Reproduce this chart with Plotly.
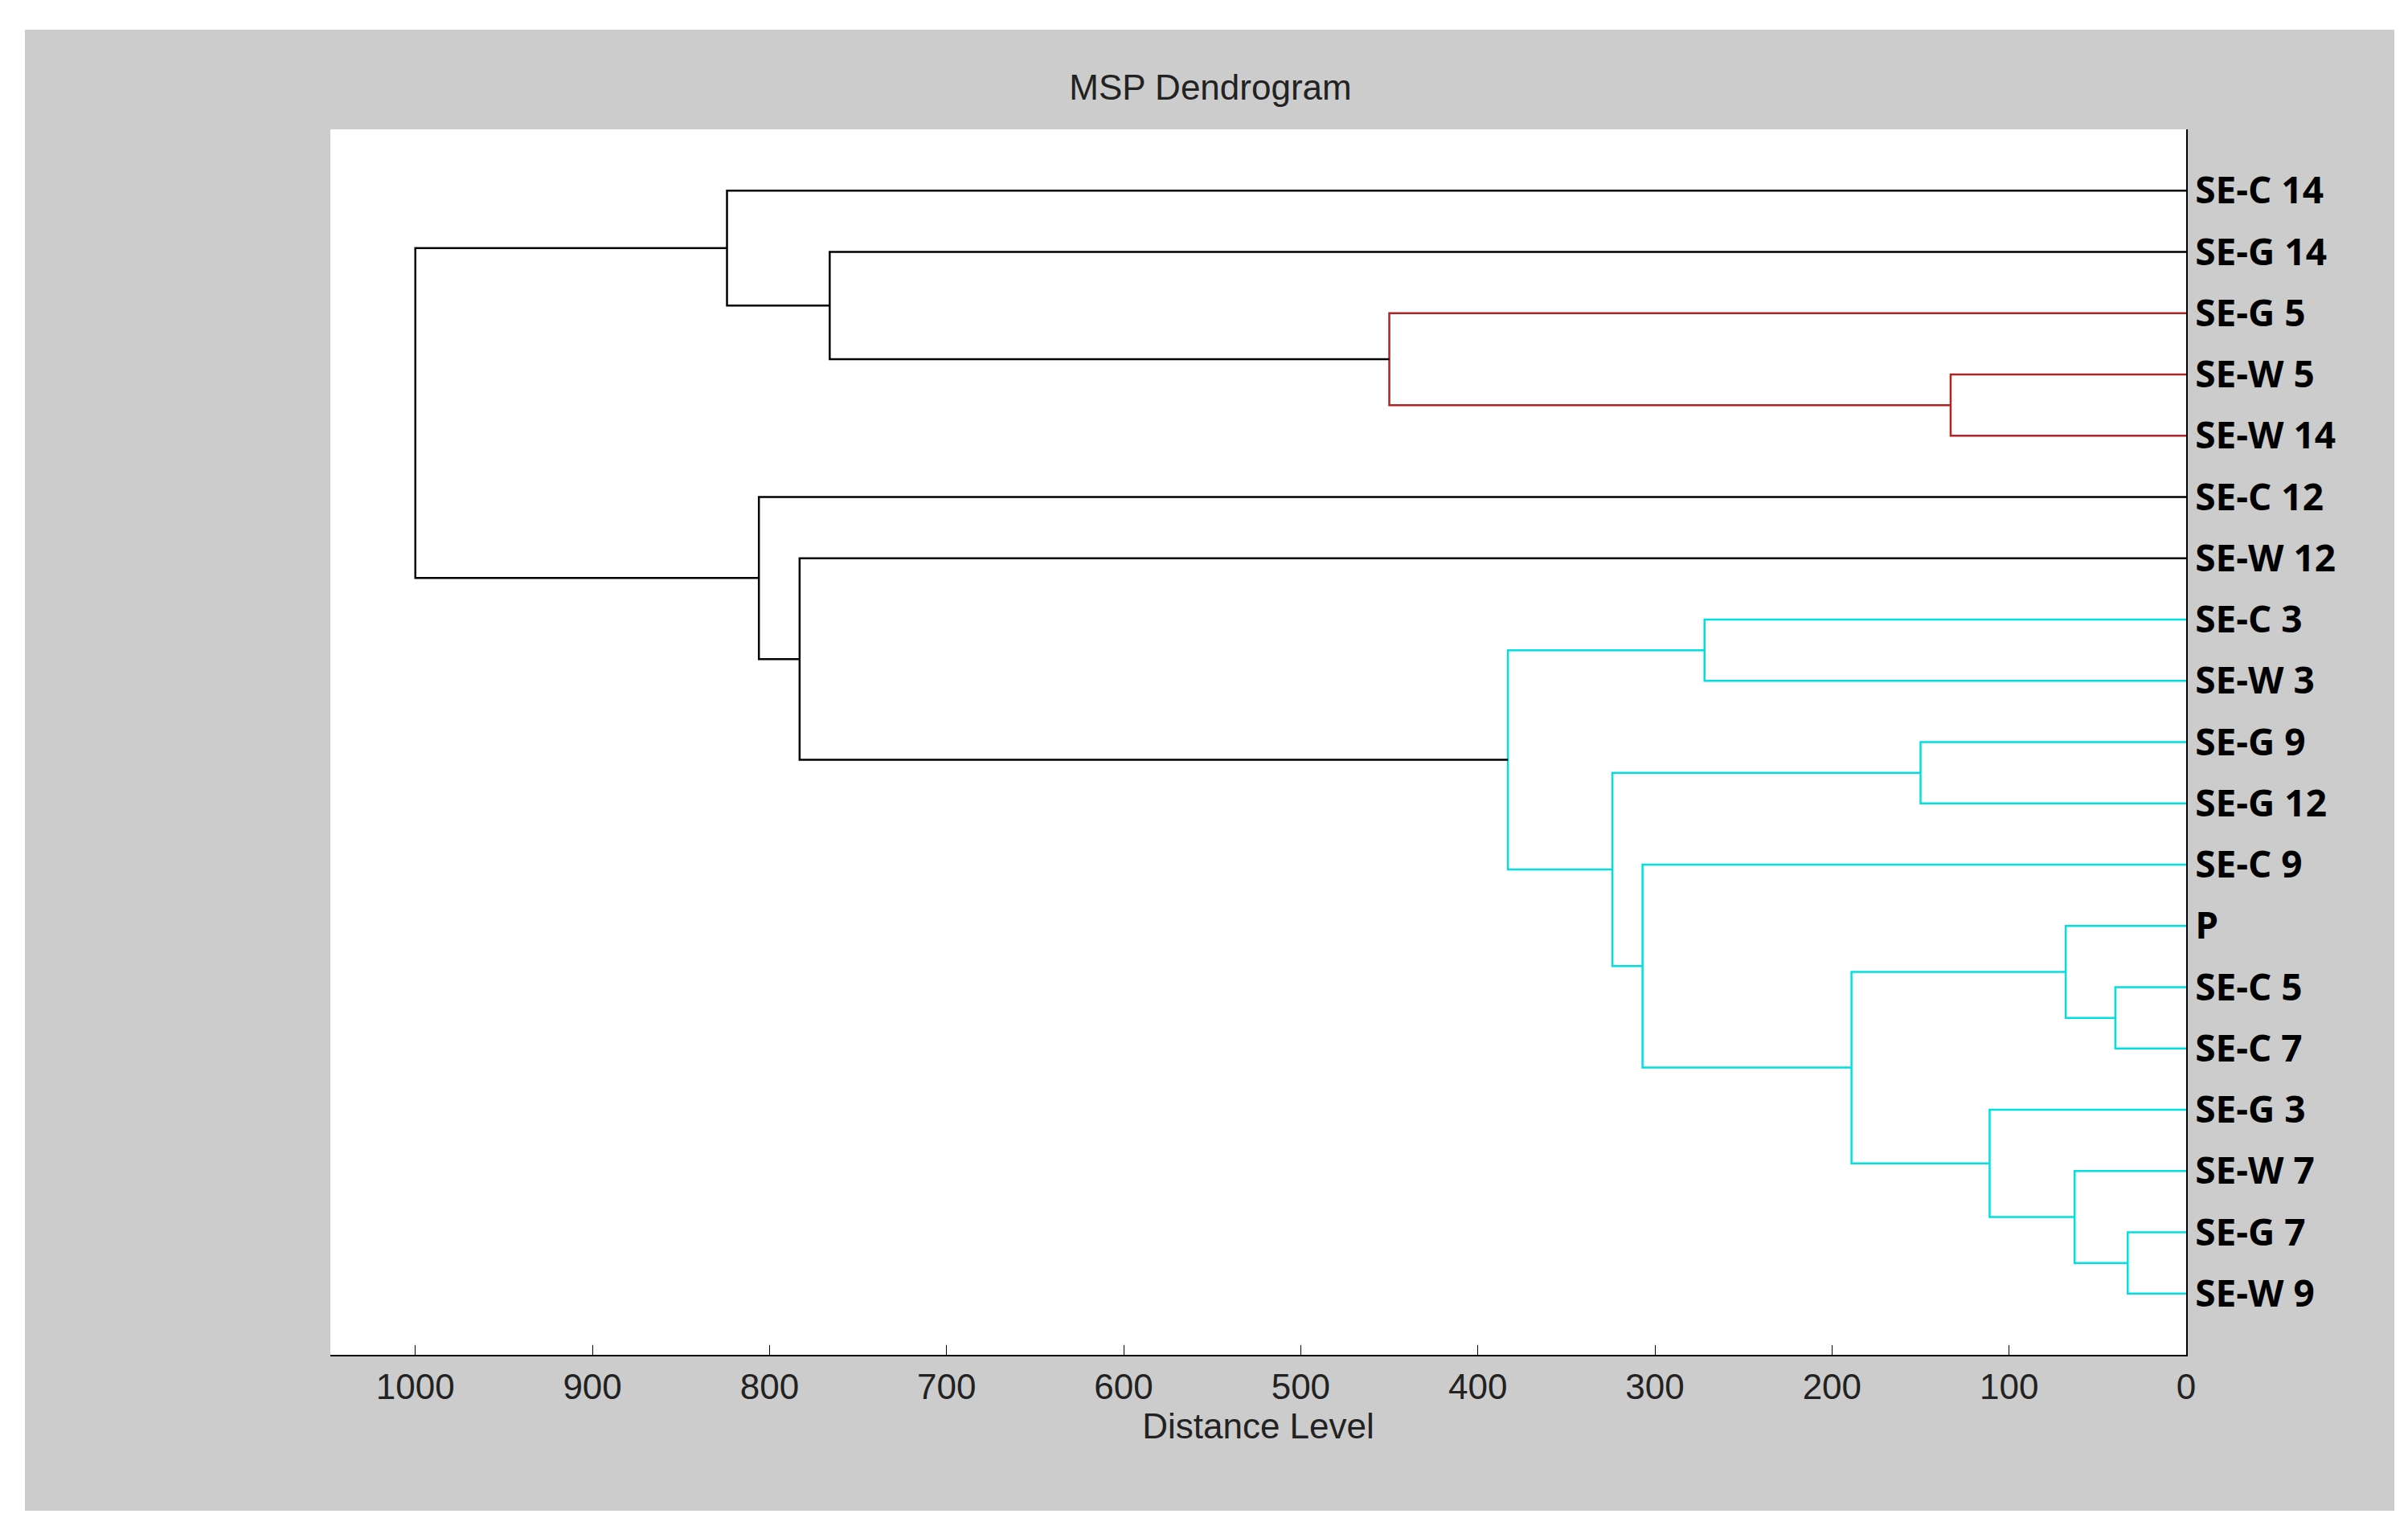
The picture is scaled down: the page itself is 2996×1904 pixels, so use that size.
import plotly.graph_objects as go

# leaves, top to bottom
leaves = ['SE-C 14', 'SE-G 14', 'SE-G 5', 'SE-W 5', 'SE-W 14', 'SE-C 12', 'SE-W 12',
          'SE-C 3', 'SE-W 3', 'SE-G 9', 'SE-G 12', 'SE-C 9', 'P', 'SE-C 5', 'SE-C 7',
          'SE-G 3', 'SE-W 7', 'SE-G 7', 'SE-W 9']

# merges: (left node, right node, distance, colour); new node ids start at len(leaves)
merges = [
    ('SE-W 5', 'SE-W 14', 133, 'red'),        # 19
    ('SE-G 5', 19, 450, 'red'),               # 20
    ('SE-G 14', 20, 766, 'black'),            # 21
    ('SE-C 14', 21, 824, 'black'),            # 22
    ('SE-C 3', 'SE-W 3', 272, 'cyan'),        # 23
    ('SE-G 9', 'SE-G 12', 150, 'cyan'),       # 24
    ('SE-C 5', 'SE-C 7', 40, 'cyan'),         # 25
    ('P', 25, 68, 'cyan'),                    # 26
    ('SE-G 7', 'SE-W 9', 33, 'cyan'),         # 27
    ('SE-W 7', 27, 63, 'cyan'),               # 28
    ('SE-G 3', 28, 111, 'cyan'),              # 29
    (26, 29, 189, 'cyan'),                    # 30
    ('SE-C 9', 30, 307, 'cyan'),              # 31
    (24, 31, 324, 'cyan'),                    # 32
    (23, 32, 383, 'cyan'),                    # 33
    ('SE-W 12', 33, 783, 'black'),            # 34
    ('SE-C 12', 34, 806, 'black'),            # 35
    (22, 35, 1000, 'black'),                  # 36
]

colours = {'red': '#b22222', 'cyan': '#00e0e0', 'black': 'black'}

# node position: (height, y)
pos = {i: (0, i + 1) for i in range(len(leaves))}


def node_id(n):
    return leaves.index(n) if isinstance(n, str) else n


fig = go.Figure()
for k, (a, b, h, c) in enumerate(merges):
    ha, ya = pos[node_id(a)]
    hb, yb = pos[node_id(b)]
    fig.add_trace(go.Scatter(x=[ha, h, h, hb], y=[ya, ya, yb, yb], mode='lines',
                             line=dict(color=colours[c], width=2.5),
                             showlegend=False, hoverinfo='skip'))
    pos[len(leaves) + k] = (h, (ya + yb) / 2)

pw, ph = 2309, 1525  # plot area size in px
fig.update_layout(
    width=2996, height=1904,
    paper_bgcolor='white', plot_bgcolor='white',
    margin=dict(l=403, r=284, t=153, b=226),
    title=dict(text='MSP Dendrogram', x=0.5, xanchor='center', y=1 - 101 / 1904, yanchor='middle',
               font=dict(family='Liberation Sans', size=44, color='#222')),
    shapes=[
        dict(type='rect', xref='paper', yref='paper', layer='below',
             x0=-380 / pw, x1=1 + 259 / pw, y0=-194 / ph, y1=1 + 124 / ph,
             fillcolor='#cccccc', line=dict(width=0)),
        dict(type='rect', xref='paper', yref='paper', layer='below',
             x0=0, x1=1, y0=0, y1=1, fillcolor='white', line=dict(width=0)),
    ],
)

fig.update_xaxes(range=[1048, 0], tickvals=list(range(0, 1001, 100)),
                 showline=True, linecolor='black', linewidth=2,
                 ticks='inside', ticklen=12, tickcolor='black', showgrid=False, zeroline=False,
                 tickfont=dict(family='Liberation Sans', size=44, color='#222'),
                 title=dict(text='Distance Level', font=dict(family='Liberation Sans', size=44, color='#222'),
                            standoff=10))
fig.update_yaxes(range=[20, 0], tickvals=list(range(1, len(leaves) + 1)), ticktext=leaves,
                 side='right', showline=True, linecolor='black', linewidth=2,
                 ticks='', showgrid=False, zeroline=False,
                 tickfont=dict(family='Open Sans', size=46, color='black', weight='bold'))

fig.write_html('out.html')
